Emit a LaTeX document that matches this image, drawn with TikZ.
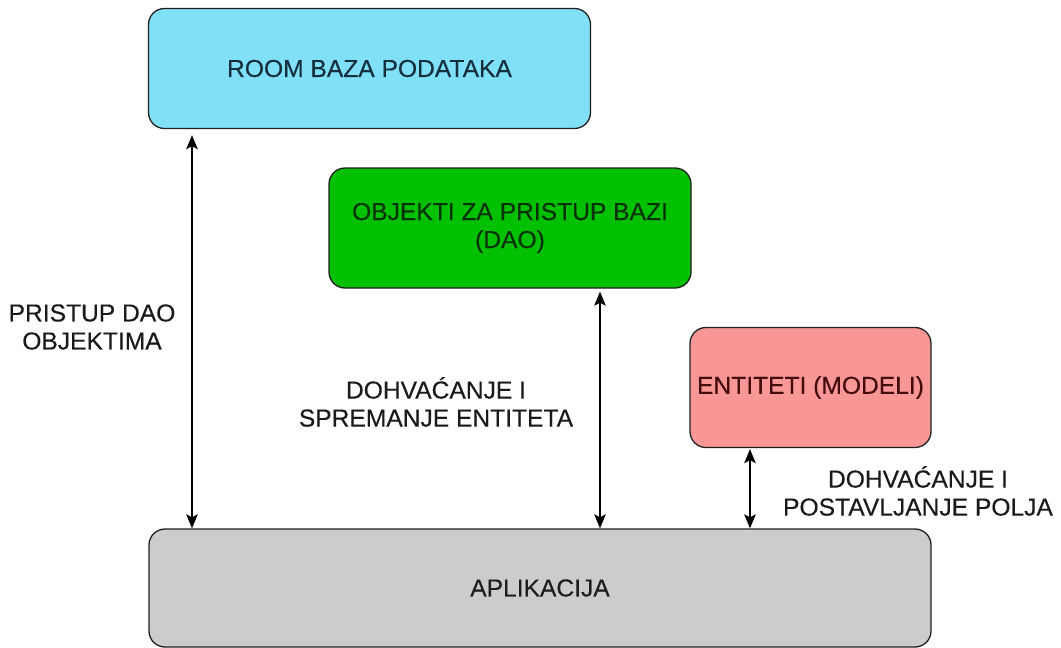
\documentclass[tikz,border=0pt]{standalone}
\usepackage{fontspec}
\setmainfont{Liberation Sans}[FakeBold=0.3]
\usetikzlibrary{arrows.meta,calc}
\definecolor{roomfill}{HTML}{7FE0F8}
\definecolor{roomtext}{HTML}{14303F}
\definecolor{daofill}{HTML}{00C000}
\definecolor{daotext}{HTML}{063306}
\definecolor{entfill}{HTML}{F99797}
\definecolor{enttext}{HTML}{440C0C}
\definecolor{appfill}{HTML}{CCCCCC}
\definecolor{apptext}{HTML}{1E1E1E}
\definecolor{edge}{HTML}{202020}
\definecolor{labeltext}{HTML}{1A1A1A}
\begin{document}
\begin{tikzpicture}[x=1pt,y=-1pt,
  every node/.style={font=\fontsize{24.6}{28}\selectfont, align=center, inner sep=0pt},
  box/.style={draw=edge, line width=1.3pt, rounded corners=16pt},
  lbl/.style={text=labeltext},
  biarrow/.style={draw=black, line width=1.7pt, {Stealth[length=14pt,width=11.5pt,inset=3pt]}-{Stealth[length=14pt,width=11.5pt,inset=3pt]}}
]
\useasboundingbox (0,0) rectangle (1061,648);
\node[box, fill=roomfill, text=roomtext, minimum width=442pt, minimum height=120pt] (room) at (369.5,68.5) {ROOM BAZA PODATAKA};
\node[box, fill=daofill, text=daotext, minimum width=362pt, minimum height=120pt] (dao) at (510,228) {OBJEKTI ZA PRISTUP BAZI\\(DAO)};
\node[box, fill=entfill, text=enttext, minimum width=241pt, minimum height=120pt] (ent) at (810.5,387.5) {ENTITETI (MODELI)};
\node[box, fill=appfill, text=apptext, minimum width=782pt, minimum height=118pt] (app) at (540,588) {APLIKACIJA};

\coordinate (xL) at (192,0);
\coordinate (xM) at (600,0);
\coordinate (xR) at (750,0);

\draw[biarrow, shorten <=6pt] (room.south -| xL) -- (app.north -| xL);
\draw[biarrow, shorten <=3pt] (dao.south -| xM) -- (app.north -| xM);
\draw[biarrow, shorten <=1pt] (ent.south -| xR) -- (app.north -| xR);

\node[lbl] (l1) at (92,327) {PRISTUP DAO\\OBJEKTIMA};
\node[lbl] (l2) at (436,402) {DOHVAĆANJE I\\SPREMANJE ENTITETA};
\node[lbl] (l3) at (918,491) {DOHVAĆANJE I\\POSTAVLJANJE POLJA};
\end{tikzpicture}
\end{document}
